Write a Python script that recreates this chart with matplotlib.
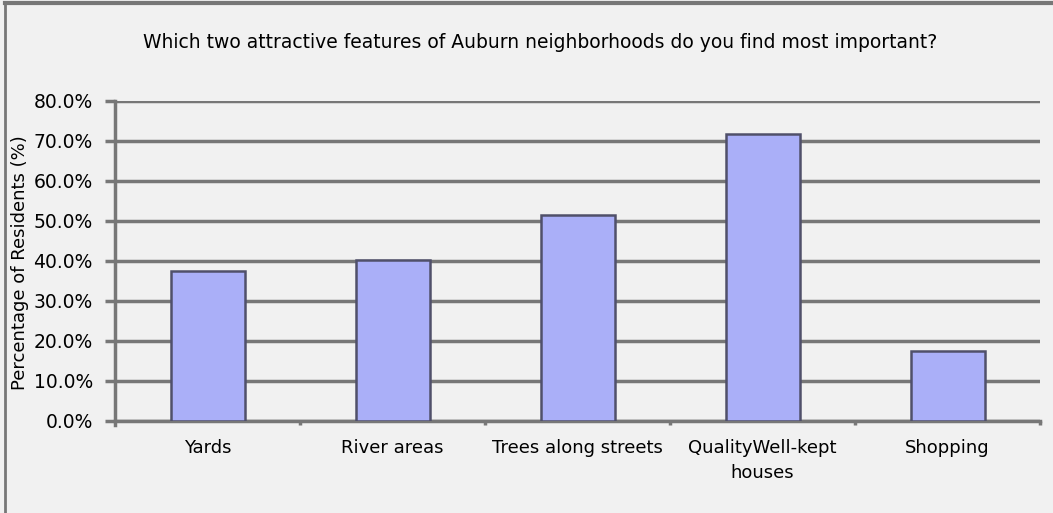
import matplotlib.pyplot as plt
from matplotlib.lines import Line2D

# Survey results (percent of residents)
categories = ['Yards', 'River areas', 'Trees along streets',
              'QualityWell-kept\nhouses', 'Shopping']
percentages = [37.5, 40.1, 51.5, 71.7, 17.5]
y_ticks = [0, 10, 20, 30, 40, 50, 60, 70, 80]

title = 'Which two attractive features of Auburn neighborhoods do you find most important?'
y_label = 'Percentage of Residents (%)'

plt.rcParams['font.family'] = ['DejaVu Sans']

W, H = 1053, 513
bg = '#f1f1f1'
grid_col = '#777777'

fig = plt.figure(figsize=(W / 100, H / 100), dpi=100, facecolor=bg)
ax = fig.add_axes([115 / W, (H - 420.7) / H, 925 / W, 320 / H])
ax.set_facecolor(bg)

xs = list(range(len(categories)))
ax.bar(xs, percentages, width=0.4, color='#aaaff8',
       edgecolor='#50506a', linewidth=1.8, zorder=3)

ax.set_xlim(-0.5, len(categories) - 0.5)
ax.set_ylim(0, 80)
ax.set_yticks(y_ticks)
ax.set_yticklabels([f'{v:.1f}%' for v in y_ticks], fontsize=13.5)
ax.set_xticks(xs)
ax.set_xticklabels(categories, fontsize=13, linespacing=1.55)
ax.set_xticks([x + 0.5 for x in xs], minor=True)
ax.tick_params(axis='x', which='major', length=0, pad=13)
ax.tick_params(axis='x', which='minor', length=3, width=2.5, color=grid_col)
ax.tick_params(axis='y', length=7, width=2.5, color=grid_col, pad=9)

ax.grid(axis='y', color=grid_col, linewidth=2.5, zorder=0)
for side in ['top', 'right']:
    ax.spines[side].set_visible(False)
ax.spines['bottom'].set_color(grid_col)
ax.spines['bottom'].set_linewidth(2.5)
ax.spines['left'].set_color(grid_col)
ax.spines['left'].set_linewidth(2.5)
ax.spines['left'].set_bounds(-1, 80)

fig.text(540 / W, 1 - 42 / H, title, fontsize=13.5, ha='center', va='center')
fig.text(20 / W, 1 - 263 / H, y_label, fontsize=13, rotation=90,
         ha='center', va='center')

# chart frame: top and left edges
fig.add_artist(Line2D([5 / W, 1], [1 - 3 / H, 1 - 3 / H], color=grid_col,
                      linewidth=3, transform=fig.transFigure))
fig.add_artist(Line2D([5 / W, 5 / W], [0, 1 - 3 / H], color=grid_col,
                      linewidth=2, transform=fig.transFigure))

fig.savefig('out.png', dpi=100, facecolor=bg)
